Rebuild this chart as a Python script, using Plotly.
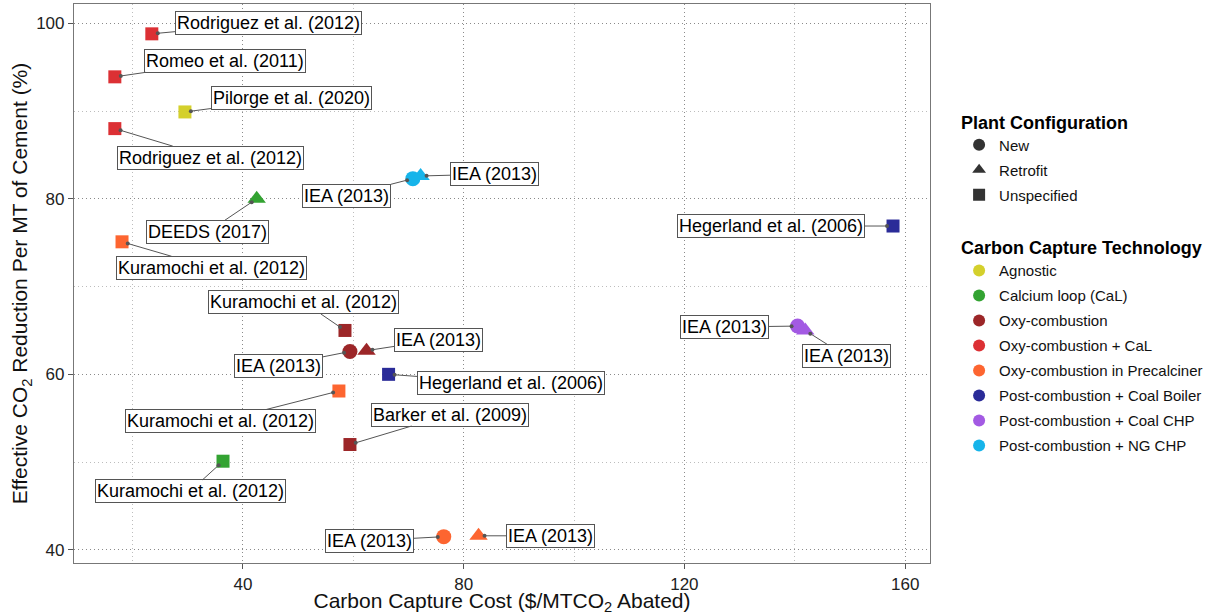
import plotly.graph_objects as go

# 논문별 탄소포집 비용 vs CO2 감축률
authors = ['Rodriguez et al. (2012)', 'Romeo et al. (2011)', 'Pilorge et al. (2020)',
           'Rodriguez et al. (2012)', 'DEEDS (2017)', 'Kuramochi et al. (2012)',
           'IEA (2013)', 'IEA (2013)', 'Hegerland et al. (2006)', 'IEA (2013)',
           'IEA (2013)', 'Kuramochi et al. (2012)', 'IEA (2013)', 'IEA (2013)',
           'Hegerland et al. (2006)', 'Kuramochi et al. (2012)', 'Barker et al. (2009)',
           'Kuramochi et al. (2012)', 'IEA (2013)', 'IEA (2013)']
cost = [23.5, 16.8, 29.5, 16.8, 42.5, 18.1, 70.8, 72.2, 157.8, 140.5,
        141.9, 58.5, 59.4, 62.4, 66.4, 57.4, 59.4, 36.4, 76.4, 82.7]
reduction = [98.8, 93.9, 89.9, 88.0, 80.0, 75.1, 82.3, 82.6, 76.9, 65.5,
             65.0, 65.0, 62.6, 62.7, 60.0, 58.1, 52.0, 50.1, 41.5, 41.6]
tech = ['Oxy-combustion + CaL', 'Oxy-combustion + CaL', 'Agnostic',
        'Oxy-combustion + CaL', 'Calcium loop (CaL)', 'Oxy-combustion in Precalciner',
        'Post-combustion + NG CHP', 'Post-combustion + NG CHP', 'Post-combustion + Coal Boiler',
        'Post-combustion + Coal CHP', 'Post-combustion + Coal CHP', 'Oxy-combustion',
        'Oxy-combustion', 'Oxy-combustion', 'Post-combustion + Coal Boiler',
        'Oxy-combustion in Precalciner', 'Oxy-combustion', 'Calcium loop (CaL)',
        'Oxy-combustion in Precalciner', 'Oxy-combustion in Precalciner']
config = ['Unspecified', 'Unspecified', 'Unspecified', 'Unspecified', 'Retrofit',
          'Unspecified', 'New', 'Retrofit', 'Unspecified', 'New',
          'Retrofit', 'Unspecified', 'New', 'Retrofit', 'Unspecified',
          'Unspecified', 'Unspecified', 'Unspecified', 'New', 'Retrofit']

configs = ['New', 'Retrofit', 'Unspecified']
techs = ['Agnostic', 'Calcium loop (CaL)', 'Oxy-combustion', 'Oxy-combustion + CaL',
         'Oxy-combustion in Precalciner', 'Post-combustion + Coal Boiler',
         'Post-combustion + Coal CHP', 'Post-combustion + NG CHP']
tech_colors = ['#d4d02c', '#33a332', '#9c2628', '#dc3034', '#fd6530',
               '#2a2b98', '#a35ae3', '#16b4ea']
symbols = {'New': 'circle', 'Retrofit': 'triangle-up', 'Unspecified': 'square'}
sizes = {'New': 15, 'Retrofit': 16, 'Unspecified': 13}

# 라벨 위치 (점 기준 픽셀 오프셋)
label_offsets = [(117, -11), (110, -16), (107, -14), (96, 29), (-49, 33), (89, 26),
                 (-66, 17), (74, -2), (-122, 0), (-73, 1), (41, 26), (-41, -28),
                 (-71, 14), (72, -11), (122, 9), (-118, 30), (100, -30), (-33, 30),
                 (-74, 4), (72, 0)]

FONT = 'Liberation Sans, Arial, sans-serif'
color_of = dict(zip(techs, tech_colors))

fig = go.Figure()

for i in range(len(authors)):
    fig.add_trace(go.Scatter(
        x=[cost[i]], y=[reduction[i]], mode='markers', showlegend=False,
        marker=dict(symbol=symbols[config[i]], size=sizes[config[i]],
                    color=color_of[tech[i]], line=dict(width=0)),
        hovertext=authors[i]))

# 범례용 더미 trace (항목마다 그룹을 따로 줘서 간격 확보)
for c in configs:
    fig.add_trace(go.Scatter(
        x=[None], y=[None], mode='markers', name=c, legend='legend', legendgroup=c,
        marker=dict(symbol=symbols[c], size=14, color='#333333')))
for t, col in zip(techs, tech_colors):
    fig.add_trace(go.Scatter(
        x=[None], y=[None], mode='markers', name=t, legend='legend2', legendgroup=t,
        marker=dict(symbol='circle', size=15, color=col)))

for i in range(len(authors)):
    ax, ay = label_offsets[i]
    fig.add_annotation(
        x=cost[i], y=reduction[i], text=authors[i], showarrow=True,
        ax=ax, ay=ay, arrowhead=6, arrowsize=1, arrowwidth=1, arrowcolor='#555555',
        standoff=6, font=dict(family=FONT, size=18, color='black'),
        bgcolor='white', bordercolor='#555555', borderwidth=1, borderpad=1)

dot = '1px,3px'
fig.update_xaxes(
    range=[9.4, 164.5], tickvals=[40, 80, 120, 160], showgrid=True,
    gridcolor='#8a8a8a', griddash=dot, gridwidth=1.3,
    minor=dict(dtick=20, tick0=0, showgrid=True, gridcolor='#bdbdbd', griddash=dot, ticks=''),
    zeroline=False, showline=True, linecolor='#777777', linewidth=1.2, mirror=True,
    ticks='outside', ticklen=5, tickcolor='#555555',
    tickfont=dict(family=FONT, size=17, color='#222222'),
    title=dict(text='Carbon Capture Cost ($/MTCO<sub>2</sub> Abated)',
               font=dict(family=FONT, size=21, color='#111111'), standoff=5))
fig.update_yaxes(
    range=[38.5, 102.2], tickvals=[40, 60, 80, 100], showgrid=True,
    gridcolor='#8a8a8a', griddash=dot, gridwidth=1.3,
    minor=dict(dtick=10, tick0=0, showgrid=True, gridcolor='#bdbdbd', griddash=dot, ticks=''),
    zeroline=False, showline=True, linecolor='#777777', linewidth=1.2, mirror=True,
    ticks='outside', ticklen=5, tickcolor='#555555',
    tickfont=dict(family=FONT, size=17, color='#222222'),
    title=dict(text='Effective CO<sub>2</sub> Reduction Per MT of Cement (%)',
               font=dict(family=FONT, size=21, color='#111111'), standoff=2))

fig.update_layout(
    width=1212, height=615,
    margin=dict(l=74, r=282, t=4, b=52, autoexpand=False),
    paper_bgcolor='white', plot_bgcolor='white',
    font=dict(family=FONT),
    legend=dict(title=dict(text='<b>Plant Configuration</b>', font=dict(size=18, color='black')),
                x=1.034, y=0.819, xanchor='left', yanchor='top',
                font=dict(size=15, color='#111111'), itemsizing='constant', tracegroupgap=2.5),
    legend2=dict(title=dict(text='<b>Carbon Capture Technology</b>', font=dict(size=18, color='black')),
                 x=1.034, y=0.594, xanchor='left', yanchor='top',
                 font=dict(size=15, color='#111111'), itemsizing='constant', tracegroupgap=2.5),
)

# 페이지 기본 여백 제거
fig.write_html('out.html', config={'displayModeBar': False},
               post_script="document.body.style.margin='0';")
